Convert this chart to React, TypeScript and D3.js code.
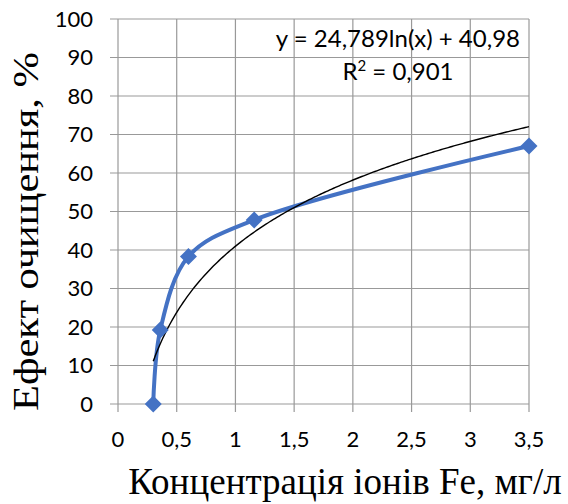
import React from "react";
import * as d3 from "d3";

const concentration = [0.3, 0.36, 0.6, 1.16, 3.5];
const efficiency = [0, 19.2, 38.3, 47.8, 67];
const xTicks = [0, 0.5, 1, 1.5, 2, 2.5, 3, 3.5];
const yTicks = [0, 10, 20, 30, 40, 50, 60, 70, 80, 90, 100];
const trendA = 24.789;
const trendB = 40.98;
const equationText = "y = 24,789ln(x) + 40,98";
const r2Value = "0,901";
const xTitle = "Концентрація іонів Fe, мг/л";
const yTitle = "Ефект очищення, %";

const W = 568;
const H = 504;
const left = 118;
const right = 529;
const top = 19;
const bottom = 404;

export default function App() {
  const x = d3.scaleLinear().domain([0, 3.5]).range([left, right]);
  const y = d3.scaleLinear().domain([0, 100]).range([bottom, top]);
  const fmt = (v: number) => String(v).replace(".", ",");

  const pts: [number, number][] = concentration.map((c, i) => [c, efficiency[i]]);
  const line = d3
    .line<[number, number]>()
    .x((d) => x(d[0]))
    .y((d) => y(d[1]))
    .curve(d3.curveCatmullRom.alpha(0.5));

  const trendXs = d3.range(0, 201).map((i) => 0.3 + (i / 200) * (3.5 - 0.3));
  const trend = d3
    .line<number>()
    .x((d) => x(d))
    .y((d) => y(trendA * Math.log(d) + trendB));

  const gridColor = "#999999";
  const tickFont = "Lato, 'Open Sans', sans-serif";
  const titleFont = "'Liberation Serif', 'Times New Roman', serif";
  const ds = 8.5;

  return (
    <svg width={W} height={H} style={{ position: "absolute", left: 0, top: 0, background: "#fff" }}>
      <rect x={0} y={0} width={W} height={H} fill="#fff" />
      {yTicks.map((t) => (
        <line key={"gy" + t} x1={left - 8} x2={right} y1={y(t)} y2={y(t)} stroke={gridColor} strokeWidth={1.2} />
      ))}
      {xTicks.map((t) => (
        <line key={"gx" + t} x1={x(t)} x2={x(t)} y1={top} y2={bottom + 8} stroke={gridColor} strokeWidth={1.2} />
      ))}
      {yTicks.map((t) => (
        <text key={"ly" + t} x={93} y={y(t)} dy="0.36em" textAnchor="end" fontFamily={tickFont} fontSize={22} fill="#000">
          {t}
        </text>
      ))}
      {xTicks.map((t) => (
        <text key={"lx" + t} x={x(t)} y={447} textAnchor="middle" fontFamily={tickFont} fontSize={22} fill="#000">
          {fmt(t)}
        </text>
      ))}
      <path d={line(pts) || ""} fill="none" stroke="#4472C4" strokeWidth={4} strokeLinejoin="round" />
      <path d={trend(trendXs) || ""} fill="none" stroke="#000" strokeWidth={1.4} />
      {pts.map((p, i) => (
        <path
          key={"m" + i}
          d={`M${x(p[0])},${y(p[1]) - ds}L${x(p[0]) + ds},${y(p[1])}L${x(p[0])},${y(p[1]) + ds}L${x(p[0]) - ds},${y(p[1])}Z`}
          fill="#4472C4"
        />
      ))}
      <text x={520} y={47} textAnchor="end" fontFamily={tickFont} fontSize={24} fill="#000">
        {equationText}
      </text>
      <text x={398} y={80} textAnchor="middle" fontFamily={tickFont} fontSize={24} fill="#000">
        R<tspan dy={-9} fontSize={15}>2</tspan>
        <tspan dy={9}> = {r2Value}</tspan>
      </text>
      <text x={345} y={494} textAnchor="middle" fontFamily={titleFont} fontSize={37} fill="#000">
        {xTitle}
      </text>
      <text
        transform={`translate(38,${231.5}) rotate(-90) scale(1.18,1)`}
        textAnchor="middle"
        fontFamily={titleFont}
        fontSize={36}
        fill="#000"
      >
        {yTitle}
      </text>
    </svg>
  );
}
